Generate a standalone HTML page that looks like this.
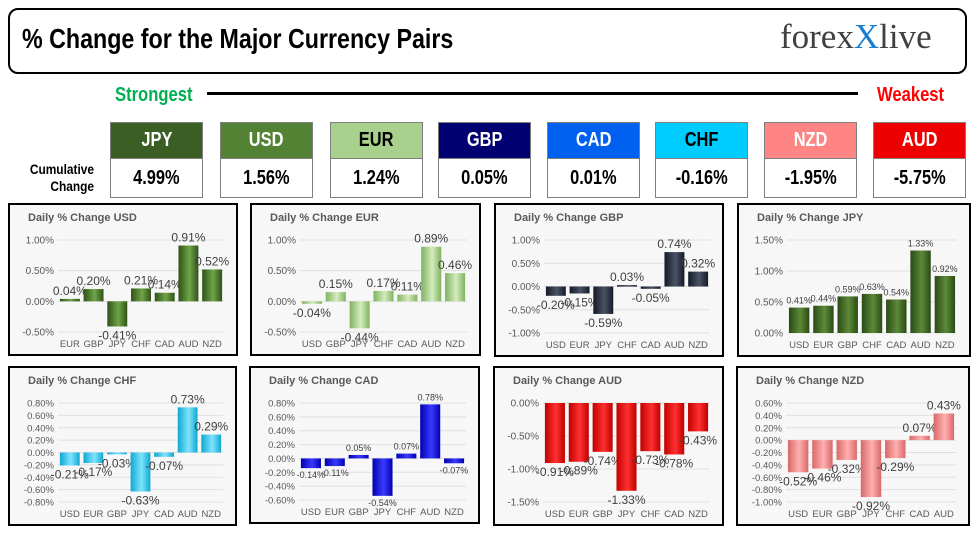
<!DOCTYPE html>
<html><head><meta charset="utf-8">
<style>
body{margin:0;width:975px;height:536px;background:#fff;position:relative;overflow:hidden;font-family:"Liberation Sans",sans-serif}
.abs{position:absolute}
.narrow{font-family:"Liberation Sans Narrow","Liberation Sans",sans-serif;font-weight:bold}
.cond{display:inline-block;transform:scaleX(0.82);transform-origin:center}
.tile{position:absolute;width:93px;border:1px solid #7f7f7f;box-sizing:border-box}
.tile .h{height:35px;line-height:35px;text-align:center;font-size:20px;color:#fff;border-bottom:1px solid #7f7f7f}
.tile .v{height:38px;line-height:38px;text-align:center;font-size:20px;color:#000;background:#fff}
</style></head><body>
<div class="abs" style="left:8px;top:8px;width:955px;height:62px;border:2px solid #000;border-radius:10px"></div>
<div class="abs narrow" style="left:22px;top:23px;font-size:28px;color:#000;white-space:nowrap;transform:scaleX(0.83);transform-origin:left center">% Change for the Major Currency Pairs</div>
<div class="abs" style="left:780px;top:17px;font-family:'Liberation Serif',serif;font-size:35px;color:#404040">forex<span style="color:#1a7fd0">X</span>live</div>
<div class="abs narrow" style="left:115px;top:84px;font-size:20px;color:#00b050;white-space:nowrap;transform:scaleX(0.83);transform-origin:left center">Strongest</div>
<div class="abs" style="left:207px;top:92px;width:651px;height:3px;background:#000"></div>
<div class="abs narrow" style="left:877px;top:84px;font-size:20px;color:#ff0000;white-space:nowrap;transform:scaleX(0.83);transform-origin:left center">Weakest</div>
<div class="abs narrow" style="left:8px;top:161px;width:86px;text-align:right;font-size:14px;line-height:17px;transform:scaleX(0.85);transform-origin:right center">Cumulative<br>Change</div>
<div id="tiles"></div>
<svg id="charts" class="abs" style="left:0;top:0" width="975" height="536">
<defs></defs>
</svg>
<script>
const tileCcys = ["JPY","USD","EUR","GBP","CAD","CHF","NZD","AUD"];
const tileVals = ["4.99%","1.56%","1.24%","0.05%","0.01%","-0.16%","-1.95%","-5.75%"];
const tileX=[110,220,330,438,547,655,764,873];
const tileBg=["#3b5e25","#548235","#a9d18e","#000070","#0060f0","#00ccff","#ff8585","#ee0000"];
const tileFg=["#fff","#fff","#000","#fff","#fff","#000","#fff","#fff"];
const tc=document.getElementById('tiles');
tileCcys.forEach((c,i)=>{
 const t=document.createElement('div');
 t.className='tile narrow';
 t.style.left=tileX[i]+'px';t.style.top='122px';
 
 
 t.innerHTML='<div class="h" style="background:'+tileBg[i]+';color:'+tileFg[i]+'"><span class="cond">'+c+'</span></div><div class="v"><span class="cond">'+tileVals[i]+'</span></div>';
 tc.appendChild(t);
});

const usdCats=["EUR","GBP","JPY","CHF","CAD","AUD","NZD"];
const usdVals=[0.04,0.20,-0.41,0.21,0.14,0.91,0.52];
const usdTicks=[1.0,0.5,0.0,-0.5];
const eurCats=["USD","GBP","JPY","CHF","CAD","AUD","NZD"];
const eurVals=[-0.04,0.15,-0.44,0.17,0.11,0.89,0.46];
const eurTicks=[1.0,0.5,0.0,-0.5];
const gbpCats=["USD","EUR","JPY","CHF","CAD","AUD","NZD"];
const gbpVals=[-0.20,-0.15,-0.59,0.03,-0.05,0.74,0.32];
const gbpTicks=[1.0,0.5,0.0,-0.5,-1.0];
const jpyCats=["USD","EUR","GBP","CHF","CAD","AUD","NZD"];
const jpyVals=[0.41,0.44,0.59,0.63,0.54,1.33,0.92];
const jpyTicks=[1.5,1.0,0.5,0.0];
const chfCats=["USD","EUR","GBP","JPY","CAD","AUD","NZD"];
const chfVals=[-0.21,-0.17,-0.03,-0.63,-0.07,0.73,0.29];
const chfTicks=[0.8,0.6,0.4,0.2,0.0,-0.2,-0.4,-0.6,-0.8];
const cadCats=["USD","EUR","GBP","JPY","CHF","AUD","NZD"];
const cadVals=[-0.14,-0.11,0.05,-0.54,0.07,0.78,-0.07];
const cadTicks=[0.8,0.6,0.4,0.2,0.0,-0.2,-0.4,-0.6];
const audCats=["USD","EUR","GBP","JPY","CHF","CAD","NZD"];
const audVals=[-0.91,-0.89,-0.74,-1.33,-0.73,-0.78,-0.43];
const audTicks=[0.0,-0.5,-1.0,-1.5];
const nzdCats=["USD","EUR","GBP","JPY","CHF","CAD","AUD"];
const nzdVals=[-0.52,-0.46,-0.32,-0.92,-0.29,0.07,0.43];
const nzdTicks=[0.6,0.4,0.2,0.0,-0.2,-0.4,-0.6,-0.8,-1.0];

const panels=[
 {id:"usd",title:"Daily % Change USD",cats:usdCats,vals:usdVals,ticks:usdTicks,x:8,y:203,w:230,h:153,c:["#2f5218","#6fa548"],fs:12},
 {id:"eur",title:"Daily % Change EUR",cats:eurCats,vals:eurVals,ticks:eurTicks,x:250,y:203,w:231,h:153,c:["#7fb25e","#d4ecbf"],fs:12},
 {id:"gbp",title:"Daily % Change GBP",cats:gbpCats,vals:gbpVals,ticks:gbpTicks,x:494,y:203,w:230,h:154,c:["#141a26","#4a5366"],fs:12},
 {id:"jpy",title:"Daily % Change JPY",cats:jpyCats,vals:jpyVals,ticks:jpyTicks,x:737,y:203,w:234,h:154,c:["#2a4a15","#5c8a38"],fs:9},
 {id:"chf",title:"Daily % Change CHF",cats:chfCats,vals:chfVals,ticks:chfTicks,x:8,y:366,w:229,h:160,c:["#0fa8d0","#7fe4ff"],fs:12},
 {id:"cad",title:"Daily % Change CAD",cats:cadCats,vals:cadVals,ticks:cadTicks,x:249,y:366,w:231,h:158,c:["#0000b0","#3a3aff"],fs:9},
 {id:"aud",title:"Daily % Change AUD",cats:audCats,vals:audVals,ticks:audTicks,x:493,y:366,w:231,h:160,c:["#c00000","#ff3030"],fs:12},
 {id:"nzd",title:"Daily % Change NZD",cats:nzdCats,vals:nzdVals,ticks:nzdTicks,x:736,y:366,w:234,h:160,c:["#d86868","#ffb0b0"],fs:12}
];
const NS="http://www.w3.org/2000/svg";
const svg=document.getElementById('charts');
const defs=svg.querySelector('defs');
function mk(tag,attrs,parent){const e=document.createElementNS(NS,tag);for(const k in attrs)e.setAttribute(k,attrs[k]);(parent||svg).appendChild(e);return e;}
panels.forEach(p=>{
 const g=mk('g',{});
 
 
 const gr=mk('linearGradient',{id:'grad-'+p.id,x1:0,x2:1,y1:0,y2:0},defs);
 mk('stop',{offset:'0',"stop-color":p.c[0]},gr);
 mk('stop',{offset:'0.55',"stop-color":p.c[1]},gr);
 mk('stop',{offset:'1',"stop-color":p.c[0]},gr);
 const frame=mk('rect',{x:p.x+1,y:p.y+1,width:p.w-2,height:p.h-2,fill:'#f7f7f7',stroke:'#000','stroke-width':2},g);
 
 
 const t=mk('text',{x:p.x+20,y:p.y+18,'font-size':11,'font-weight':'bold',fill:'#595959','font-family':'Liberation Sans, sans-serif'},g);
 t.textContent=p.title;
 
 
 const top=p.y+37,bot=p.y+p.h-24;
 const max=Math.max(...p.ticks),min=Math.min(...p.ticks);
 const ys=v=>top+(max-v)/(max-min)*(bot-top);
 const x0=p.x+50,x1=p.x+p.w-14,band=(x1-x0)/p.cats.length;
 const xs=i=>x0+band*(i+0.5);
 p.ticks.forEach(v=>{
  const y=ys(v);
  const l=mk('line',{x1:x0,x2:x1,y1:y,y2:y,stroke:'#e0e0e0','stroke-width':1},g);
  
  
  const tl=mk('text',{x:p.x+46,y:y+3.5,'text-anchor':'end','font-size':p.ticks.length>6?9.5:10,fill:'#595959','font-family':'Liberation Sans, sans-serif'},g);
  tl.textContent=v.toFixed(2)+'%';
  
  
 });
 p.cats.forEach((c,i)=>{
  const v=p.vals[i];
  const yv=ys(v),y0=ys(0);
  const bw=band*0.84;
  const r=mk('rect',{x:xs(i)-bw/2,y:Math.min(yv,y0),width:bw,height:Math.max(1.5,Math.abs(yv-y0)),fill:'url(#grad-'+p.id+')'},g);
  
  
  const lt=mk('text',{x:xs(i),y:v>=0?yv-4:yv+p.fs+1,'text-anchor':'middle','font-size':p.fs,fill:'#404040','font-family':'Liberation Sans, sans-serif'},g);
  lt.textContent=v.toFixed(2)+'%';
  
  
  const cl=mk('text',{x:xs(i),y:p.y+p.h-9,'text-anchor':'middle','font-size':9.5,fill:'#595959','font-family':'Liberation Sans, sans-serif'},g);
  cl.textContent=c;
  
  
 });
});
</script>
</body></html>
